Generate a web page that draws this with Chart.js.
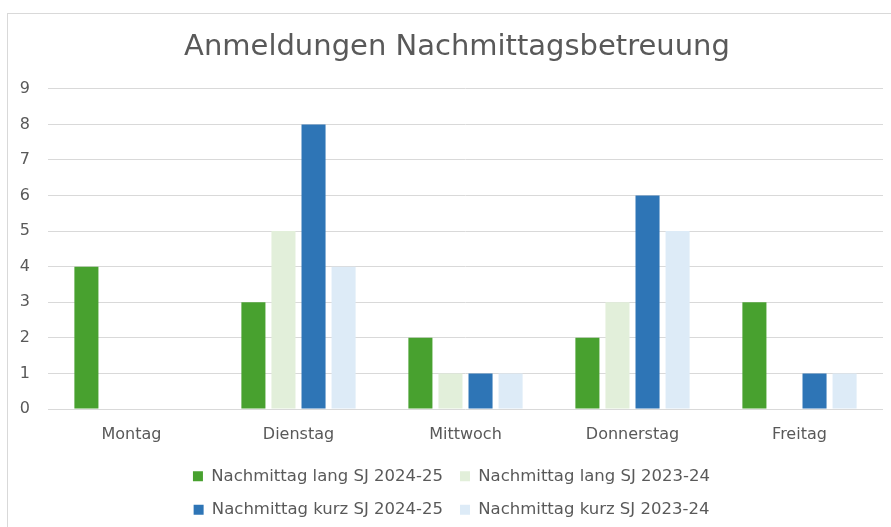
<!DOCTYPE html>
<html lang="de">
<head>
  <meta charset="UTF-8">
  <title>Anmeldungen Nachmittagsbetreuung</title>
  <script src="https://cdn.jsdelivr.net/npm/chart.js"></script>
  <style>
    html, body { margin: 0; padding: 0; background: #fff; overflow: hidden; }
    .frame { position: absolute; left: 7px; top: 13px; width: 898px; height: 514px; border: 1px solid #d9d9d9; }
    canvas { display: block; }
  </style>
</head>
<body>
  <div class="frame">
    <canvas id="chart" width="898" height="514"></canvas>
  </div>

  <script>
    const tage = ["Montag", "Dienstag", "Mittwoch", "Donnerstag", "Freitag"];
    const langNeu = [4, 3, 2, 2, 3];   // Nachmittag lang SJ 2024-25
    const langAlt = [0, 5, 1, 3, 0];   // Nachmittag lang SJ 2023-24
    const kurzNeu = [0, 8, 1, 6, 1];   // Nachmittag kurz SJ 2024-25
    const kurzAlt = [0, 4, 1, 5, 1];   // Nachmittag kurz SJ 2023-24
    const yTicks = [0, 1, 2, 3, 4, 5, 6, 7, 8, 9];

    const grau = "#595959";
    Chart.defaults.font.family = "'DejaVu Sans', sans-serif";
    Chart.defaults.color = grau;

    // legend in two columns like the original (two items per row),
    // title centred over the whole frame rather than the padded box
    const anpassen = {
      id: "anpassen",
      beforeLayout(chart) {
        const lg = chart.legend;
        if (!lg || lg._zweiSpalten || typeof lg._fitRows !== "function") return;
        const orig = lg._fitRows;
        lg._fitRows = function (...args) {
          const w = this.maxWidth;
          this.maxWidth = 600;
          const h = orig.apply(this, args);
          this.maxWidth = w;
          return h;
        };
        lg._zweiSpalten = true;
      },
      afterLayout(chart) {
        if (chart.titleBlock) chart.titleBlock.left += 11;
      }
    };

    new Chart(document.getElementById("chart"), {
      type: "bar",
      data: {
        labels: tage,
        datasets: [
          { label: "Nachmittag lang SJ 2024-25", data: langNeu, backgroundColor: "#48a12f" },
          { label: "Nachmittag lang SJ 2023-24", data: langAlt, backgroundColor: "#e2efda" },
          { label: "Nachmittag kurz SJ 2024-25", data: kurzNeu, backgroundColor: "#2e75b6" },
          { label: "Nachmittag kurz SJ 2023-24", data: kurzAlt, backgroundColor: "#ddebf7" }
        ]
      },
      options: {
        responsive: false,
        animation: false,
        categoryPercentage: 0.72,
        barPercentage: 0.8,
        layout: { padding: { left: 12, right: 23, top: 0, bottom: 0 } },
        plugins: {
          title: {
            display: true,
            text: "Anmeldungen Nachmittagsbetreuung",
            color: grau,
            font: { size: 29, weight: "normal" },
            padding: { top: 16, bottom: 24 }
          },
          legend: {
            position: "bottom",
            labels: { boxWidth: 10, boxHeight: 10, padding: 17, color: grau, font: { size: 16.5 } }
          },
          tooltip: { enabled: false }
        },
        scales: {
          x: {
            grid: { display: false, drawTicks: false },
            border: { display: false },
            ticks: { padding: 16, color: grau, font: { size: 16 } },
            afterFit: axis => { axis.height = 42; }
          },
          y: {
            min: 0,
            max: 9,
            afterBuildTicks: axis => { axis.ticks = yTicks.map(v => ({ value: v })); },
            grid: { color: "#d9d9d9", drawTicks: false },
            border: { display: false },
            ticks: { padding: 18, color: grau, font: { size: 16 } },
            afterFit: axis => { axis.width = 28; }
          }
        }
      },
      plugins: [anpassen]
    });
  </script>
</body>
</html>
